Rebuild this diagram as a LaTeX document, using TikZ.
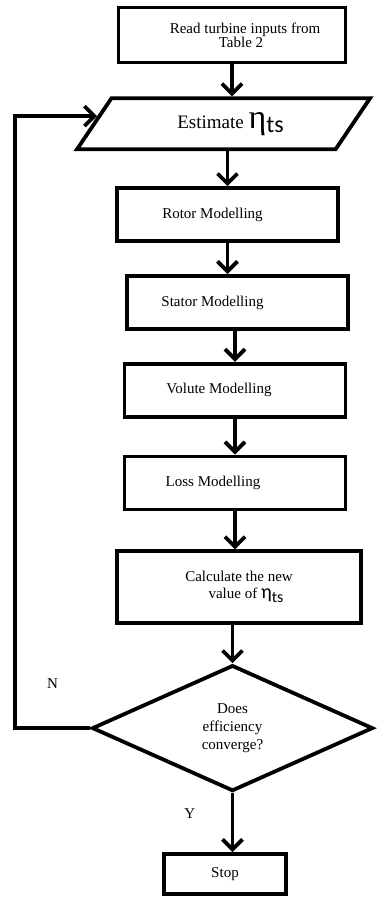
\documentclass[tikz,border=0pt]{standalone}
\usepackage{fontspec}
\setmainfont{Liberation Serif}
\setsansfont{Carlito}
\usepackage{tikz}
\usetikzlibrary{arrows.meta,shapes,positioning,calc}

\begin{document}
\begin{tikzpicture}[
    x=1pt, y=1pt,
    node distance=31pt,
    box/.style={rectangle, draw, line width=3.8pt, minimum width=221pt, minimum height=53pt, align=center, font=\fontsize{15}{17}\selectfont},
    arrow/.style={-{Straight Barb[length=10pt,width=20pt]}, line width=3.8pt}
]
    \useasboundingbox (0,0) rectangle (377,-898);

    \node[box, minimum width=227pt, minimum height=55pt, font=\fontsize{15}{14}\selectfont] (read) at (232,-35) {\hspace*{26pt}Read turbine inputs from\\\hspace*{18pt}Table 2};
    \node[trapezium, draw, line width=3.8pt, trapezium left angle=41, trapezium right angle=139, trapezium stretches body=true, minimum width=293pt, minimum height=51pt, font=\fontsize{19}{22}\selectfont, below=32pt of read, xshift=-8.5pt] (est) {\hspace*{14pt}Estimate {\fontsize{34}{34}\selectfont η}{\sffamily\fontsize{24}{24}\selectfont\raisebox{-4pt}{ts}}};
    \node[box, below=35pt of est, xshift=4pt] (rotor) {Rotor Modelling\hspace*{30pt}};
    \node[box, below=of rotor, xshift=10pt] (stator) {Stator Modelling\hspace*{50pt}};
    \node[box, below=of stator, xshift=-2.5pt] (volute) {Volute Modelling\hspace*{32pt}};
    \node[box, below=36pt of volute] (loss) {Loss Modelling\hspace*{44pt}};
    \node[box, minimum width=244pt, minimum height=72pt, below=38pt of loss, xshift=4pt] (calc) {Calculate the new\\ \hspace*{14pt}value of {\fontsize{20}{20}\selectfont\sffamily η}{\sffamily\fontsize{16}{16}\selectfont\raisebox{-4pt}{ts}}};
    \node[diamond, draw, line width=3.8pt, minimum width=281pt, minimum height=126pt, align=center, font=\fontsize{15}{18}\selectfont, below=38pt of calc, xshift=-6.5pt] (dec) {Does\\efficiency\\converge?};
    \node[box, minimum width=122pt, minimum height=40pt, below=59pt of dec, xshift=-7.5pt] (stop) {Stop};

    \coordinate (back) at ($(est.bottom left corner)!0.64!(est.top left corner)$);

    \draw[arrow] (read) -- (read |- est.north);
    \draw[arrow] (est.south -| rotor) -- (rotor);
    \draw[arrow] (rotor) -- (rotor |- stator.north);
    \draw[arrow] (stator.south -| volute) -- (volute);
    \draw[arrow] (volute) -- (loss);
    \draw[arrow] (loss) -- (loss |- calc.north);
    \draw[arrow] (calc.south -| dec) -- (dec);
    \draw[arrow] (dec) -- (dec |- stop.north) node[midway, left=32pt, yshift=9pt, font=\fontsize{15}{15}\selectfont] {Y};
    \draw[arrow, line join=miter] (dec.west) -- node[midway, yshift=45pt, font=\fontsize{15}{15}\selectfont] {N} ++(-75,0) |- (back);
\end{tikzpicture}
\end{document}
